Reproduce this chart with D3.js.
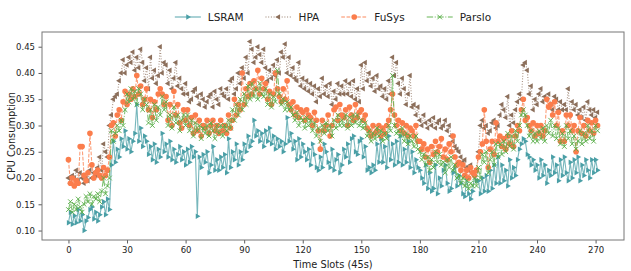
<!DOCTYPE html>
<html>
<head>
<meta charset="utf-8">
<script src="https://cdn.jsdelivr.net/npm/d3@7"></script>
<style>
  body { margin: 0; background: #fff; }
  svg { display: block; font-family: "DejaVu Sans", sans-serif; }
</style>
</head>
<body>
<div id="chart"></div>
<script>
// time slots 0..271, one reading per slot
const seriesNames = ["LSRAM", "HPA", "FuSys", "Parslo"];
const xTicks = [0, 30, 60, 90, 120, 150, 180, 210, 240, 270];
const yTicks = [0.10, 0.15, 0.20, 0.25, 0.30, 0.35, 0.40, 0.45];

const lsram = [
  0.115, 0.135, 0.112, 0.128, 0.115, 0.14, 0.118, 0.13, 0.10, 0.118,
  0.125, 0.14, 0.145, 0.122, 0.135, 0.118, 0.13, 0.145, 0.155, 0.13,
  0.16, 0.14, 0.225, 0.27, 0.23, 0.255, 0.24, 0.275, 0.26, 0.29,
  0.255, 0.275, 0.25, 0.27, 0.285, 0.34, 0.27, 0.295, 0.26, 0.28,
  0.27, 0.245, 0.26, 0.235, 0.265, 0.23, 0.255, 0.24, 0.285, 0.25,
  0.265, 0.24, 0.27, 0.235, 0.255, 0.23, 0.245, 0.26, 0.235, 0.25,
  0.225, 0.255, 0.23, 0.26, 0.24, 0.25, 0.127, 0.24, 0.22, 0.245,
  0.23, 0.25, 0.21, 0.225, 0.26, 0.215, 0.235, 0.215, 0.24, 0.22,
  0.245, 0.21, 0.275, 0.22, 0.25, 0.235, 0.265, 0.225, 0.25, 0.235,
  0.265, 0.25, 0.28, 0.26, 0.27, 0.31, 0.28, 0.29, 0.27, 0.285,
  0.26, 0.29, 0.27, 0.295, 0.265, 0.28, 0.255, 0.275, 0.26, 0.27,
  0.25, 0.265, 0.315, 0.27, 0.285, 0.255, 0.27, 0.235, 0.275, 0.24,
  0.265, 0.25, 0.235, 0.255, 0.225, 0.265, 0.245, 0.22, 0.215, 0.24,
  0.22, 0.265, 0.25, 0.23, 0.22, 0.255, 0.215, 0.235, 0.245, 0.21,
  0.225, 0.255, 0.24, 0.265, 0.23, 0.275, 0.28, 0.25, 0.245, 0.27,
  0.275, 0.24, 0.26, 0.215, 0.22, 0.21, 0.225, 0.215, 0.265, 0.23,
  0.275, 0.23, 0.26, 0.22, 0.28, 0.235, 0.265, 0.225, 0.27, 0.23,
  0.28, 0.225, 0.255, 0.23, 0.27, 0.22, 0.25, 0.21, 0.235, 0.22,
  0.215, 0.2, 0.19, 0.225, 0.18, 0.21, 0.175, 0.18, 0.225, 0.17,
  0.2, 0.185, 0.215, 0.225, 0.19, 0.175, 0.18, 0.21, 0.22, 0.185,
  0.205, 0.19, 0.17, 0.165, 0.2, 0.17, 0.16, 0.175, 0.205, 0.195,
  0.195, 0.17, 0.2, 0.175, 0.205, 0.175, 0.215, 0.18, 0.225, 0.19,
  0.24, 0.19, 0.225, 0.195, 0.215, 0.185, 0.235, 0.2, 0.22, 0.205,
  0.235, 0.255, 0.265, 0.275, 0.27, 0.245, 0.24, 0.225, 0.235, 0.215,
  0.225, 0.2, 0.235, 0.205, 0.225, 0.19, 0.215, 0.205, 0.24, 0.21,
  0.225, 0.195, 0.235, 0.205, 0.24, 0.21, 0.195, 0.23, 0.2, 0.235,
  0.21, 0.24, 0.195, 0.225, 0.205, 0.235, 0.215, 0.2, 0.235, 0.21,
  0.235, 0.215
];

const hpa = [
  0.2, 0.19, 0.205, 0.2, 0.215, 0.195, 0.21, 0.2, 0.19, 0.2,
  0.195, 0.215, 0.2, 0.21, 0.205, 0.22, 0.24, 0.215, 0.265, 0.25,
  0.24, 0.3, 0.32, 0.35, 0.355, 0.36, 0.385, 0.4, 0.425, 0.4,
  0.415, 0.43, 0.42, 0.44, 0.405, 0.43, 0.41, 0.445, 0.42, 0.385,
  0.41, 0.37, 0.43, 0.39, 0.405, 0.38, 0.395, 0.45, 0.40, 0.42,
  0.415, 0.38, 0.405, 0.37, 0.39, 0.42, 0.375, 0.39, 0.37, 0.36,
  0.38, 0.36, 0.345, 0.35, 0.365, 0.37, 0.355, 0.34, 0.36, 0.35,
  0.335, 0.345, 0.355, 0.36, 0.335, 0.365, 0.35, 0.34, 0.37, 0.36,
  0.355, 0.37, 0.35, 0.385, 0.39, 0.36, 0.37, 0.40, 0.38, 0.41,
  0.39, 0.43, 0.40, 0.46, 0.445, 0.42, 0.43, 0.45, 0.435, 0.42,
  0.445, 0.41, 0.385, 0.405, 0.39, 0.415, 0.395, 0.425, 0.40, 0.44,
  0.43, 0.455, 0.40, 0.43, 0.395, 0.41, 0.39, 0.385, 0.42, 0.375,
  0.39, 0.37, 0.385, 0.365, 0.38, 0.36, 0.375, 0.345, 0.37, 0.355,
  0.39, 0.36, 0.375, 0.355, 0.38, 0.34, 0.365, 0.35, 0.38, 0.36,
  0.375, 0.36, 0.385, 0.36, 0.38, 0.355, 0.385, 0.35, 0.37, 0.345,
  0.415, 0.37, 0.42, 0.385, 0.40, 0.375, 0.39, 0.365, 0.395, 0.37,
  0.375, 0.355, 0.37, 0.35, 0.385, 0.36, 0.43, 0.395, 0.42, 0.38,
  0.36, 0.39, 0.37, 0.34, 0.36, 0.395, 0.335, 0.34, 0.32, 0.335,
  0.31, 0.3, 0.32, 0.305, 0.295, 0.31, 0.3, 0.315, 0.295, 0.305,
  0.31, 0.295, 0.3, 0.31, 0.29, 0.3, 0.28, 0.27, 0.26, 0.255,
  0.25, 0.24, 0.23, 0.235, 0.22, 0.215, 0.225, 0.21, 0.205, 0.215,
  0.25, 0.3, 0.31, 0.295, 0.3, 0.285, 0.29, 0.305, 0.31, 0.295,
  0.3, 0.32, 0.34, 0.33, 0.315, 0.355, 0.3, 0.32, 0.305, 0.33,
  0.345, 0.36, 0.35, 0.415, 0.42, 0.405, 0.36, 0.375, 0.33, 0.35,
  0.34, 0.36, 0.37, 0.345, 0.355, 0.35, 0.36, 0.34, 0.33, 0.355,
  0.35, 0.33, 0.345, 0.33, 0.34, 0.33, 0.37, 0.32, 0.345, 0.33,
  0.34, 0.32, 0.33, 0.315, 0.335, 0.31, 0.345, 0.33, 0.32, 0.33,
  0.315, 0.325
];

const fusys = [
  0.235, 0.19, 0.2, 0.185, 0.195, 0.19, 0.26, 0.26, 0.205, 0.195,
  0.21, 0.285, 0.225, 0.2, 0.21, 0.215, 0.205, 0.2, 0.22, 0.205,
  0.215, 0.24, 0.3, 0.305, 0.28, 0.32, 0.33, 0.31, 0.345, 0.365,
  0.34, 0.36, 0.35, 0.37, 0.355, 0.395, 0.36, 0.375, 0.34, 0.35,
  0.37, 0.33, 0.35, 0.315, 0.345, 0.33, 0.36, 0.37, 0.36, 0.34,
  0.355, 0.31, 0.34, 0.3, 0.365, 0.32, 0.34, 0.305, 0.295, 0.33,
  0.31, 0.33, 0.3, 0.315, 0.285, 0.32, 0.29, 0.31, 0.28, 0.3,
  0.295, 0.31, 0.285, 0.3, 0.31, 0.29, 0.3, 0.285, 0.31, 0.29,
  0.3, 0.285, 0.32, 0.295, 0.31, 0.35, 0.32, 0.34, 0.33, 0.40,
  0.34, 0.37, 0.355, 0.38, 0.36, 0.385, 0.37, 0.405, 0.36, 0.39,
  0.37, 0.38, 0.35, 0.365, 0.34, 0.36, 0.4, 0.37, 0.355, 0.345,
  0.37, 0.35, 0.385, 0.34, 0.33, 0.345, 0.32, 0.335, 0.315, 0.33,
  0.325, 0.31, 0.33, 0.32, 0.315, 0.3, 0.325, 0.31, 0.29, 0.255,
  0.31, 0.29, 0.3, 0.32, 0.28, 0.3, 0.33, 0.335, 0.31, 0.34,
  0.32, 0.315, 0.33, 0.3, 0.335, 0.32, 0.31, 0.34, 0.315, 0.325,
  0.33, 0.31, 0.32, 0.295, 0.29, 0.28, 0.3, 0.285, 0.29, 0.3,
  0.28, 0.295, 0.285, 0.3, 0.31, 0.33, 0.36, 0.32, 0.3, 0.31,
  0.29, 0.305, 0.285, 0.3, 0.28, 0.295, 0.29, 0.28, 0.3, 0.27,
  0.27, 0.255, 0.265, 0.24, 0.255, 0.23, 0.26, 0.245, 0.27, 0.25,
  0.26, 0.275, 0.24, 0.255, 0.235, 0.265, 0.25, 0.28, 0.24, 0.225,
  0.23, 0.215, 0.225, 0.205, 0.215, 0.2, 0.22, 0.21, 0.205, 0.215,
  0.24, 0.25, 0.265, 0.33, 0.27, 0.22, 0.255, 0.27, 0.245, 0.305,
  0.27, 0.28, 0.26, 0.275, 0.255, 0.28, 0.265, 0.29, 0.26, 0.28,
  0.3, 0.29, 0.33, 0.35, 0.31, 0.315, 0.3, 0.29, 0.305, 0.28,
  0.3, 0.285, 0.3, 0.28, 0.29, 0.35, 0.335, 0.34, 0.32, 0.345,
  0.3, 0.325, 0.27, 0.29, 0.27, 0.32, 0.3, 0.32, 0.29, 0.3,
  0.25, 0.29, 0.315, 0.285, 0.3, 0.28, 0.31, 0.29, 0.305, 0.285,
  0.31, 0.3
];

const parslo = [
  0.14, 0.155, 0.135, 0.15, 0.14, 0.16, 0.145, 0.135, 0.15, 0.165,
  0.155, 0.17, 0.15, 0.165, 0.16, 0.17, 0.155, 0.175, 0.2, 0.17,
  0.185, 0.2, 0.29, 0.27, 0.285, 0.3, 0.29, 0.31, 0.3, 0.33,
  0.36, 0.345, 0.37, 0.35, 0.365, 0.34, 0.37, 0.36, 0.33, 0.35,
  0.34, 0.305, 0.33, 0.3, 0.34, 0.31, 0.335, 0.32, 0.355, 0.33,
  0.345, 0.3, 0.32, 0.295, 0.335, 0.305, 0.32, 0.29, 0.31, 0.32,
  0.3, 0.32, 0.29, 0.31, 0.28, 0.305, 0.29, 0.3, 0.275, 0.295,
  0.285, 0.3, 0.28, 0.305, 0.29, 0.275, 0.3, 0.285, 0.3, 0.28,
  0.3, 0.29, 0.31, 0.295, 0.33, 0.31, 0.34, 0.32, 0.35, 0.33,
  0.36, 0.34, 0.375, 0.35, 0.38, 0.355, 0.37, 0.35, 0.38, 0.36,
  0.355, 0.37, 0.34, 0.36, 0.335, 0.355, 0.345, 0.405, 0.36, 0.34,
  0.35, 0.33, 0.345, 0.33, 0.335, 0.32, 0.31, 0.325, 0.3, 0.315,
  0.31, 0.295, 0.315, 0.3, 0.31, 0.29, 0.305, 0.28, 0.295, 0.27,
  0.3, 0.285, 0.305, 0.29, 0.3, 0.28, 0.31, 0.295, 0.32, 0.3,
  0.31, 0.3, 0.32, 0.295, 0.315, 0.3, 0.32, 0.305, 0.32, 0.3,
  0.31, 0.295, 0.305, 0.28, 0.29, 0.27, 0.285, 0.275, 0.295, 0.28,
  0.29, 0.27, 0.285, 0.275, 0.3, 0.29, 0.395, 0.3, 0.285, 0.29,
  0.28, 0.295, 0.27, 0.285, 0.265, 0.28, 0.27, 0.26, 0.28, 0.255,
  0.25, 0.235, 0.245, 0.225, 0.24, 0.215, 0.235, 0.22, 0.25, 0.23,
  0.245, 0.225, 0.23, 0.21, 0.235, 0.22, 0.24, 0.215, 0.225, 0.2,
  0.205, 0.19, 0.2, 0.185, 0.195, 0.18, 0.19, 0.185, 0.2, 0.185,
  0.22, 0.2, 0.245, 0.23, 0.25, 0.21, 0.235, 0.25, 0.225, 0.265,
  0.24, 0.265, 0.245, 0.27, 0.25, 0.285, 0.26, 0.28, 0.255, 0.29,
  0.27, 0.3, 0.32, 0.33, 0.32, 0.3, 0.28, 0.29, 0.27, 0.285,
  0.27, 0.29, 0.275, 0.295, 0.27, 0.3, 0.285, 0.31, 0.28, 0.3,
  0.275, 0.295, 0.265, 0.285, 0.26, 0.3, 0.275, 0.29, 0.265, 0.28,
  0.255, 0.27, 0.29, 0.265, 0.285, 0.27, 0.3, 0.275, 0.29, 0.27,
  0.3, 0.29
];

const seriesValues = [lsram, hpa, fusys, parslo];

// look of each series (matplotlib-like: solid, dotted, dashed, dash-dot)
const styles = [
  { color: "#4a9fa6", dash: null, marker: "tri-right" },
  { color: "#8c6f5b", dash: "1,1.7", marker: "tri-left" },
  { color: "#fb7d4c", dash: "3.7,1.6", marker: "circle" },
  { color: "#56ad45", dash: "6.4,1.6,1,1.6", marker: "x" }
];

const width = 631;
const height = 271;
const margin = { top: 32, right: 7, bottom: 31, left: 42 };

const svg = d3.select("#chart")
  .append("svg")
  .attr("width", width)
  .attr("height", height);

// matplotlib default 5% padding around the data range
const nPts = lsram.length;
const allVals = seriesValues.flat();
const yMin = d3.min(allVals), yMax = d3.max(allVals);
const xPad = (nPts - 1) * 0.05;
const yPad = (yMax - yMin) * 0.05;

const x = d3.scaleLinear()
  .domain([-xPad, nPts - 1 + xPad])
  .range([margin.left, width - margin.right]);

const y = d3.scaleLinear()
  .domain([yMin - yPad, yMax + yPad])
  .range([height - margin.bottom, margin.top]);

// axes
const xAxis = svg.append("g")
  .attr("transform", `translate(0,${height - margin.bottom})`)
  .call(d3.axisBottom(x).tickValues(xTicks).tickSize(3.5).tickPadding(3.5));

const yAxis = svg.append("g")
  .attr("transform", `translate(${margin.left},0)`)
  .call(d3.axisLeft(y).tickValues(yTicks).tickFormat(d3.format(".2f")).tickSize(3.5).tickPadding(3.5));

[xAxis, yAxis].forEach(g => {
  g.select(".domain").remove();
  g.selectAll("line").attr("stroke", "#333").attr("stroke-width", 0.8);
  g.selectAll("text")
    .attr("fill", "#222")
    .style("font-size", "8.5px")
    .style("font-family", "DejaVu Sans, sans-serif");
});

// frame around the plot area
svg.append("rect")
  .attr("x", margin.left)
  .attr("y", margin.top)
  .attr("width", width - margin.left - margin.right)
  .attr("height", height - margin.top - margin.bottom)
  .attr("fill", "none")
  .attr("stroke", "#777")
  .attr("stroke-width", 1);

// axis labels
svg.append("text")
  .attr("x", (margin.left + width - margin.right) / 2)
  .attr("y", 268)
  .attr("text-anchor", "middle")
  .style("font-size", "9.8px")
  .attr("fill", "#222")
  .text("Time Slots (45s)");

svg.append("text")
  .attr("transform", `translate(15,${(margin.top + height - margin.bottom) / 2}) rotate(-90)`)
  .attr("text-anchor", "middle")
  .style("font-size", "9.8px")
  .attr("fill", "#222")
  .text("CPU Consumption");

// marker drawing helper
const triangle = d3.symbol().type(d3.symbolTriangle).size(13)();
const circle = d3.symbol().type(d3.symbolCircle).size(25)();
const cross = d3.symbol().type(d3.symbolX || d3.symbolTimes).size(16)();

function drawMarker(g, kind, color, cx, cy) {
  if (kind === "tri-right" || kind === "tri-left") {
    g.append("path")
      .attr("d", triangle)
      .attr("transform", `translate(${cx},${cy}) rotate(${kind === "tri-right" ? 90 : -90})`)
      .attr("fill", color);
  } else if (kind === "circle") {
    g.append("path")
      .attr("d", circle)
      .attr("transform", `translate(${cx},${cy})`)
      .attr("fill", color);
  } else {
    g.append("path")
      .attr("d", cross)
      .attr("transform", `translate(${cx},${cy})`)
      .attr("fill", "none")
      .attr("stroke", color)
      .attr("stroke-width", 0.9);
  }
}

const line = d3.line()
  .x((d, i) => x(i))
  .y(d => y(d));

// plot clip so nothing spills over the frame
svg.append("clipPath").attr("id", "plotClip")
  .append("rect")
  .attr("x", margin.left)
  .attr("y", margin.top)
  .attr("width", width - margin.left - margin.right)
  .attr("height", height - margin.top - margin.bottom);

const plot = svg.append("g").attr("clip-path", "url(#plotClip)");

seriesValues.forEach((vals, s) => {
  const st = styles[s];
  const g = plot.append("g");
  g.append("path")
    .datum(vals)
    .attr("d", line)
    .attr("fill", "none")
    .attr("stroke", st.color)
    .attr("stroke-width", 1.1)
    .attr("stroke-opacity", 0.75)
    .attr("stroke-dasharray", st.dash);
  vals.forEach((v, i) => drawMarker(g, st.marker, st.color, x(i), y(v)));
});

// legend on top, centred over the axes, one row
const legendY = 17;
const handleLen = 26;
const textGap = 7;
const colGap = 22;
const legend = svg.append("g");

const measure = legend.append("text").style("font-size", "10.5px");
const textWidths = seriesNames.map(n => {
  measure.text(n);
  return measure.node().getComputedTextLength();
});
measure.remove();

const totalW = d3.sum(textWidths) + seriesNames.length * (handleLen + textGap) + (seriesNames.length - 1) * colGap;
let lx = (margin.left + width - margin.right) / 2 - totalW / 2;

seriesNames.forEach((name, s) => {
  const st = styles[s];
  const item = legend.append("g");
  item.append("line")
    .attr("x1", lx).attr("x2", lx + handleLen)
    .attr("y1", legendY).attr("y2", legendY)
    .attr("stroke", st.color)
    .attr("stroke-opacity", 0.6)
    .attr("stroke-width", 1.6)
    .attr("stroke-dasharray", st.dash);
  drawMarker(item, st.marker, st.color, lx + handleLen / 2, legendY);
  item.append("text")
    .attr("x", lx + handleLen + textGap)
    .attr("y", legendY)
    .attr("dy", "0.35em")
    .style("font-size", "10.5px")
    .attr("fill", "#222")
    .text(name);
  lx += handleLen + textGap + textWidths[s] + colGap;
});
</script>
</body>
</html>
